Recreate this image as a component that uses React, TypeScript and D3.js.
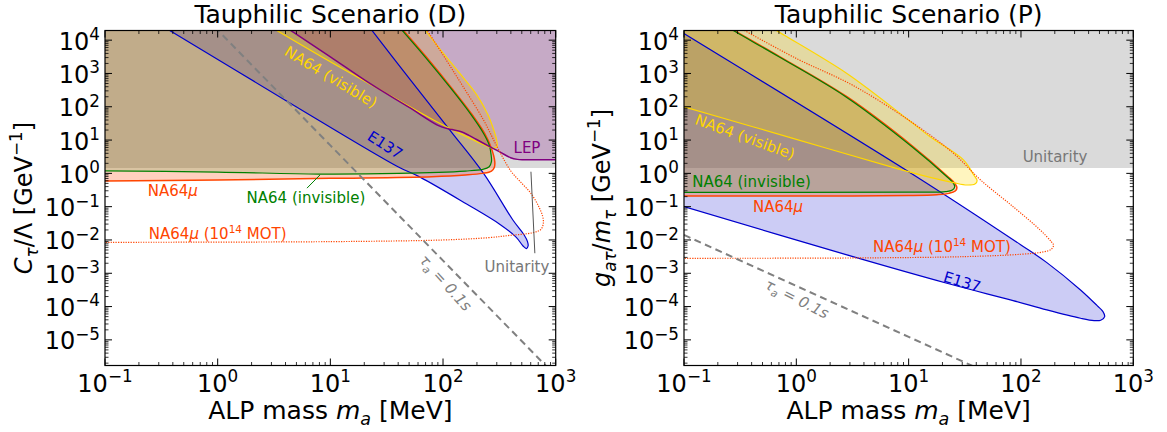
import React from "react";
import * as d3 from "d3";

type Pt = [number, number];
type Seg = { t: string; it?: boolean; sub?: boolean; sup?: boolean };

// axes (ALP mass in MeV, coupling in GeV^-1)
const massDomain: [number, number] = [0.1, 1000];
const couplingDomain: [number, number] = [1.7e-6, 1.95e4];
const massExps = [-1, 0, 1, 2, 3];
const couplingExps = [-5, -4, -3, -2, -1, 0, 1, 2, 3, 4];

// unitarity bound, same in both scenarios
const unitarity = 1.45;

// ---- Scenario (D) ----
const e137D: Pt[] = [
  [0.347, 22900], [3.98, 158], [39.8, 1.585], [63.1, 0.759], [162, 0.12], [316, 0.0302],
  [447, 0.012], [513, 0.0066], [550, 0.0055], [569, 0.0066], [562, 0.0089], [525, 0.0141],
  [417, 0.0398], [229, 1.0], [115, 20], [50.1, 708], [22.6, 22900],
];
const na64muD: Pt[] = [
  [41.7, 25100], [70.8, 3160], [120, 355], [178, 63.1], [234, 15.8], [269, 5.62], [288, 2.24],
  [285, 1.51], [269, 1.175], [224, 1.0], [158, 0.891], [79.4, 0.794], [10, 0.708], [1, 0.631],
  [0.0794, 0.589],
];
const na64invD: Pt[] = [
  [40.7, 25100], [69.2, 3160], [117.5, 355], [174, 63.1], [229, 15.8], [257, 7.08], [266, 3.98],
  [269, 2.24], [257, 1.585], [224, 1.318], [158, 1.175], [39.8, 1.0], [7.94, 0.955], [1, 1.096],
  [0.0794, 1.202],
];
const visibleD: Pt[] = [
  [2.95, 25100], [10, 2240], [31.6, 251], [100, 28.2], [200, 8.91], [263, 6.03], [288, 5.75],
  [302, 6.61], [299, 10], [282, 20], [251, 56.2], [200, 224], [141, 1000], [95.5, 5010], [66.1, 25100],
];
const lepD: Pt[] = [
  [3.98, 25100], [10, 3160], [22.4, 501], [50.1, 95.5], [89.1, 28.2], [107, 22.4], [123, 20.4],
  [145, 17.8], [170, 13.8], [224, 8.32], [316, 4.47], [398, 2.95], [457, 2.63], [525, 2.57], [1259, 2.57],
];
const motD: Pt[] = [
  [69.2, 25100], [107, 2510], [151, 398], [229, 39.8], [302, 6.31], [398, 1.2], [501, 0.501],
  [603, 0.251], [708, 0.1], [767, 0.0501], [776, 0.0316], [741, 0.0209], [631, 0.0166],
  [398, 0.0138], [251, 0.0117], [100, 0.01], [10, 0.0089], [0.0794, 0.0085],
];
const tauD: Pt[] = [[0.8, 44000], [1, 20000], [10, 6.92], [100, 0.0024], [1000, 8.3e-7]];

// ---- Scenario (P) ----
const e137P: Pt[] = [
  [0.0794, 0.126], [0.1, 0.1], [2.82, 0.00355], [21.9, 5.0e-4], [85.1, 1.51e-4], [170, 7.94e-5],
  [339, 4.47e-5], [447, 3.8e-5], [513, 3.89e-5], [556, 5.01e-5], [537, 7.08e-5], [479, 1.05e-4],
  [339, 3.16e-4], [170, 2.09e-3], [100, 7.08e-3], [11.75, 0.794], [0.1, 15850], [0.0794, 25700],
];
const na64muP: Pt[] = [
  [0.251, 25100], [0.295, 17800], [0.716, 3160], [2.82, 200], [11.0, 6.31], [22.4, 0.794],
  [25.7, 0.501], [26.9, 0.372], [26.0, 0.295], [22.9, 0.251], [17.8, 0.229], [10, 0.216],
  [3.16, 0.209], [0.0794, 0.209],
];
const na64invP: Pt[] = [
  [0.245, 25100], [0.288, 17800], [0.7, 3160], [2.75, 200], [10.7, 6.31], [21.9, 0.794],
  [24.8, 0.525], [25.7, 0.398], [24.5, 0.316], [21.4, 0.282], [10, 0.272], [0.0794, 0.269],
];
const visibleP: Pt[] = [
  [0.0794, 126], [0.1, 100], [1, 10.5], [7.76, 1.41], [15.5, 0.759], [25.1, 0.525], [33.1, 0.447],
  [38.9, 0.479], [40.7, 0.603], [38.0, 0.891], [30.9, 2.51], [15.5, 12.6], [10, 39.8], [2.82, 1000],
  [0.661, 20000], [0.603, 25100],
];
const motP: Pt[] = [
  [0.302, 25100], [1, 2820], [3.16, 447], [10, 39.8], [25.1, 3.98], [43.7, 0.631], [85.1, 0.1],
  [148, 0.02], [186, 0.00891], [195, 0.00708], [186, 0.00525], [158, 0.00437], [100, 0.00372],
  [31.6, 0.00316], [3.16, 0.00288], [0.0794, 0.00282],
];
const tauP: Pt[] = [[0.1, 0.0141], [1, 4.17e-4], [10, 1.23e-5], [100, 3.6e-7]];

const BLUE = "#0000cd";
const ORANGE = "#ff4500";
const GREEN = "#008000";
const GOLD = "#ffd700";
const PURPLE = "#800080";
const GRAY = "#808080";

const TOP = 30.5;
const BOTTOM = 365.5;
const FONT = "'DejaVu Sans', sans-serif";

type Layer = { pts: Pt[]; color: string; op: number; close: "Z" | "TL" | "TR"; w?: number };
type Label = { segs: Seg[]; at: Pt; color: string; rot?: number };

const mu: Seg = { t: "μ", it: true };
const tauLab: Seg[] = [{ t: "τ", it: true }, { t: "a", it: true, sub: true }, { t: " = 0.1s", it: true }];
const motLab: Seg[] = [{ t: "NA64" }, mu, { t: " (10" }, { t: "14", sup: true }, { t: " MOT)" }];

const labelsD: Label[] = [
  { segs: [{ t: "NA64 (visible)" }], at: [10.1, 776], color: GOLD, rot: 31 },
  { segs: [{ t: "E137" }], at: [30.5, 7.08], color: BLUE, rot: 33 },
  { segs: [{ t: "LEP" }], at: [556, 5.75], color: PURPLE },
  { segs: [{ t: "NA64" }, mu], at: [0.4, 0.295], color: ORANGE },
  { segs: [{ t: "NA64 (invisible)" }], at: [6.07, 0.188], color: GREEN },
  { segs: motLab, at: [1.0, 0.0151], color: ORANGE },
  { segs: [{ t: "Unitarity" }], at: [453, 1.58e-3], color: "#777" },
  { segs: tauLab, at: [105, 5.1e-4], color: GRAY, rot: 48 },
];
const labelsP: Label[] = [
  { segs: [{ t: "NA64 (visible)" }], at: [0.349, 12.3], color: GOLD, rot: 20 },
  { segs: [{ t: "NA64 (invisible)" }], at: [0.399, 0.569], color: GREEN },
  { segs: [{ t: "NA64" }, mu], at: [0.687, 0.1], color: ORANGE },
  { segs: motLab, at: [19.8, 6.17e-3], color: ORANGE },
  { segs: [{ t: "E137" }], at: [29.9, 5.5e-4], color: BLUE, rot: 17 },
  { segs: [{ t: "Unitarity" }], at: [201, 3.2], color: "#777" },
  { segs: tauLab, at: [1.01, 1.7e-4], color: GRAY, rot: 27 },
];

const leadersD: { pts: Pt[]; color: string }[] = [
  { pts: [[8.1, 0.9], [6.2, 0.36]], color: GREEN },
  { pts: [[603, 1.12], [653, 0.004]], color: "#555" },
];

function Rich({ segs, size }: { segs: Seg[]; size: number }) {
  let shift = 0;
  return (
    <>
      {segs.map((s, i) => {
        const target = s.sub ? size * 0.25 : s.sup ? -size * 0.4 : 0;
        const dy = target - shift;
        shift = target;
        return (
          <tspan key={i} dy={dy} fontSize={s.sub || s.sup ? size * 0.7 : size} fontStyle={s.it ? "italic" : "normal"}>
            {s.t}
          </tspan>
        );
      })}
    </>
  );
}

type PanelProps = {
  id: string;
  x0: number;
  x1: number;
  title: string;
  ylab: Seg[];
  ylabX: number;
  layers: Layer[];
  mot: Pt[];
  tau: Pt[];
  labels: Label[];
  leaders: { pts: Pt[]; color: string }[];
};

function Panel(p: PanelProps) {
  const x = d3.scaleLog().domain(massDomain).range([p.x0, p.x1]);
  const y = d3.scaleLog().domain(couplingDomain).range([BOTTOM, TOP]);
  const smooth = d3
    .line<Pt>()
    .x((d) => x(d[0]))
    .y((d) => y(d[1]))
    .curve(d3.curveCatmullRom.alpha(0.5));
  const straight = d3
    .line<Pt>()
    .x((d) => x(d[0]))
    .y((d) => y(d[1]));
  const outL = p.x0 - 40;
  const outR = p.x1 + 40;
  const outT = TOP - 40;
  const closer = (c: Layer["close"]) => (c === "TL" ? `L${outL},${outT}Z` : c === "TR" ? `L${outR},${outT}Z` : "Z");

  const xMinor: number[] = [];
  for (let k = -1; k <= 2; k++) for (let m = 2; m <= 9; m++) xMinor.push(m * 10 ** k);
  const yMinor: number[] = [];
  for (let k = -6; k <= 4; k++)
    for (let m = 2; m <= 9; m++) {
      const v = m * 10 ** k;
      if (v > couplingDomain[0] && v < couplingDomain[1]) yMinor.push(v);
    }
  const cx = (p.x0 + p.x1) / 2;
  const uy = y(unitarity);

  return (
    <g fontFamily={FONT}>
      <defs>
        <clipPath id={p.id}>
          <rect x={p.x0} y={TOP} width={p.x1 - p.x0} height={BOTTOM - TOP} />
        </clipPath>
      </defs>
      <g clipPath={`url(#${p.id})`}>
        <rect x={p.x0} y={TOP} width={p.x1 - p.x0} height={uy - TOP} fill="#dadada" />
        {p.layers.map((l, i) => (
          <path key={"f" + i} d={(smooth(l.pts) as string) + closer(l.close)} fill={l.color} fillOpacity={l.op} stroke="none" />
        ))}
        {p.layers.map((l, i) => (
          <path key={"s" + i} d={smooth(l.pts) as string} fill="none" stroke={l.color} strokeWidth={l.w ?? 1.2} />
        ))}
        <path d={smooth(p.mot) as string} fill="none" stroke={ORANGE} strokeWidth={1.2} strokeDasharray="1.2 1.3" />
        <path d={straight(p.tau) as string} fill="none" stroke={GRAY} strokeWidth={2} strokeDasharray="7 4.5" />
        {p.leaders.map((l, i) => (
          <path key={"ld" + i} d={straight(l.pts) as string} fill="none" stroke={l.color} strokeWidth={1} />
        ))}
        {p.labels.map((l, i) => (
          <text
            key={"lb" + i}
            transform={`translate(${x(l.at[0])},${y(l.at[1])}) rotate(${l.rot ?? 0})`}
            y={5}
            textAnchor="middle"
            fill={l.color}
            fontSize={15}
          >
            <Rich segs={l.segs} size={15} />
          </text>
        ))}
      </g>

      {/* ticks, all four sides, pointing in */}
      {massExps.map((e) => {
        const px = x(10 ** e);
        return (
          <g key={"xm" + e} stroke="#000" strokeWidth={1}>
            <line x1={px} x2={px} y1={BOTTOM} y2={BOTTOM - 7} />
            <line x1={px} x2={px} y1={TOP} y2={TOP + 7} />
          </g>
        );
      })}
      {xMinor.map((v, i) => {
        const px = x(v);
        return (
          <g key={"xn" + i} stroke="#000" strokeWidth={0.8}>
            <line x1={px} x2={px} y1={BOTTOM} y2={BOTTOM - 3.5} />
            <line x1={px} x2={px} y1={TOP} y2={TOP + 3.5} />
          </g>
        );
      })}
      {couplingExps.map((e) => {
        const py = y(10 ** e);
        return (
          <g key={"ym" + e} stroke="#000" strokeWidth={1}>
            <line x1={p.x0} x2={p.x0 + 7} y1={py} y2={py} />
            <line x1={p.x1} x2={p.x1 - 7} y1={py} y2={py} />
          </g>
        );
      })}
      {yMinor.map((v, i) => {
        const py = y(v);
        return (
          <g key={"yn" + i} stroke="#000" strokeWidth={0.8}>
            <line x1={p.x0} x2={p.x0 + 3.5} y1={py} y2={py} />
            <line x1={p.x1} x2={p.x1 - 3.5} y1={py} y2={py} />
          </g>
        );
      })}
      <rect x={p.x0} y={TOP} width={p.x1 - p.x0} height={BOTTOM - TOP} fill="none" stroke="#000" strokeWidth={1.2} />

      {massExps.map((e) => (
        <text key={"xl" + e} x={x(10 ** e)} y={392} textAnchor="middle" fontSize={24}>
          <Rich segs={[{ t: "10" }, { t: e < 0 ? "−" + -e : String(e), sup: true }]} size={24} />
        </text>
      ))}
      {couplingExps.map((e) => (
        <text key={"yl" + e} x={p.x0 - 5} y={y(10 ** e) + 9.5} textAnchor="end" fontSize={24}>
          <Rich segs={[{ t: "10" }, { t: e < 0 ? "−" + -e : String(e), sup: true }]} size={24} />
        </text>
      ))}

      <text x={cx} y={23} textAnchor="middle" fontSize={25}>
        {p.title}
      </text>
      <text x={cx} y={419} textAnchor="middle" fontSize={25}>
        <Rich segs={[{ t: "ALP mass " }, { t: "m", it: true }, { t: "a", it: true, sub: true }, { t: " [MeV]" }]} size={25} />
      </text>
      <text transform={`translate(${p.ylabX},${(TOP + BOTTOM) / 2}) rotate(-90)`} textAnchor="middle" fontSize={24}>
        <Rich segs={p.ylab} size={24} />
      </text>
    </g>
  );
}

export default function App() {
  return (
    <svg width={1167} height={432} style={{ position: "absolute", left: 0, top: 0, background: "#fff" }}>
      <Panel
        id="clipD"
        x0={105}
        x1={555.7}
        title="Tauphilic Scenario (D)"
        ylabX={32}
        ylab={[
          { t: "C", it: true },
          { t: "τ", it: true, sub: true },
          { t: "/Λ [GeV" },
          { t: "−1", sup: true },
          { t: "]" },
        ]}
        layers={[
          { pts: e137D, color: BLUE, op: 0.2, close: "Z" },
          { pts: na64muD, color: ORANGE, op: 0.25, close: "TL", w: 1.5 },
          { pts: na64invD, color: GREEN, op: 0.15, close: "TL" },
          { pts: visibleD, color: GOLD, op: 0.25, close: "Z" },
          { pts: lepD, color: PURPLE, op: 0.22, close: "TR", w: 1.5 },
        ]}
        mot={motD}
        tau={tauD}
        labels={labelsD}
        leaders={leadersD}
      />
      <Panel
        id="clipP"
        x0={684}
        x1={1133.3}
        title="Tauphilic Scenario (P)"
        ylabX={610}
        ylab={[
          { t: "g", it: true },
          { t: "aτ", it: true, sub: true },
          { t: "/" },
          { t: "m", it: true },
          { t: "τ", it: true, sub: true },
          { t: " [GeV" },
          { t: "−1", sup: true },
          { t: "]" },
        ]}
        layers={[
          { pts: e137P, color: BLUE, op: 0.2, close: "Z" },
          { pts: na64muP, color: ORANGE, op: 0.25, close: "TL", w: 1.5 },
          { pts: na64invP, color: GREEN, op: 0.15, close: "TL" },
          { pts: visibleP, color: GOLD, op: 0.25, close: "TL" },
        ]}
        mot={motP}
        tau={tauP}
        labels={labelsP}
        leaders={[]}
      />
    </svg>
  );
}
